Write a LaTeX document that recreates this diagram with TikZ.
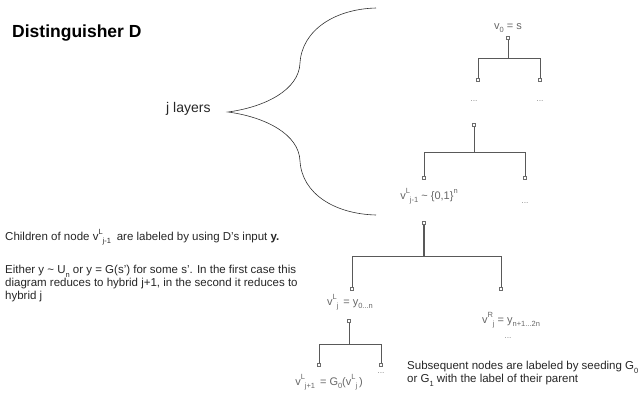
\documentclass[tikz,border=0pt]{standalone}
\usepackage{fontspec}
\setmainfont{Liberation Sans}
\usetikzlibrary{positioning}
\newcommand{\lowsub}[1]{\raisebox{-0.6ex}{\fontsize{7.5}{8}\selectfont #1}}
\newcommand{\highsup}[1]{\raisebox{0.9ex}{\fontsize{7.5}{8}\selectfont #1}}

\begin{document}
\begin{tikzpicture}[x=1pt, y=-1pt, inner sep=0pt,
    sq/.style={rectangle, draw=gray!85!black, fill=white, line width=0.6pt, minimum size=3.2pt},
    lbl/.style={anchor=base, text=black!60, font=\fontsize{11}{13}\selectfont},
    txt/.style={anchor=base west, align=left, text=black!85, font=\fontsize{11.5}{13}\selectfont},
    dts/.style={text=black!45, font=\fontsize{8.5}{8}\selectfont},
    tr/.style={draw=black!65, line width=0.9pt},
    br/.style={draw=black!80, line width=0.6pt}]
    \useasboundingbox (0,0) rectangle (643,394);

    \node[anchor=base west, font=\bfseries\fontsize{17.5}{20}\selectfont] (title) at (12,37) {Distinguisher D};
    \node[anchor=base west, text=black!85, font=\fontsize{14}{16}\selectfont] (layers) at (166,112) {j layers};

    \coordinate (tip) at (228,112);
    \coordinate (top) at (376,8);
    \coordinate (bot) at (376,215);
    \draw[br] (top) .. controls (335,9) and (302,30) .. (300,63) .. controls (299,90) and (265,107) .. (tip)
        .. controls (265,117) and (299,134) .. (300,161) .. controls (302,194) and (335,214) .. (bot);

    \node[txt] (children) at (5,240) {Children of node v\highsup{L}\lowsub{j-1}\enspace are labeled by using D's input \textbf{y.}};
    \node[txt, anchor=north west] (either) at (5,265) {Either y \textasciitilde{} U\lowsub{n} or y = G(s') for some s'. In the first case this\\
        diagram reduces to hybrid j+1, in the second it reduces to\\
        hybrid j};
    \node[txt, anchor=north west] (subseq) at (407,361) {Subsequent nodes are labeled by seeding G\lowsub{0}\\
        or G\lowsub{1} with the label of their parent};

    \node[lbl] (v0) at (508,29) {v\lowsub{0} = s};
    \node[sq] (r0) at (508,38) {};
    \coordinate (j0) at (508,58);
    \node[sq] (a1) at (478,80) {};
    \node[sq] (a2) at (540,80) {};
    \node[dts] (d1) at (474,101) {...};
    \node[dts] (d2) at (540,101) {...};

    \node[sq] (r1) at (474,125) {};
    \coordinate (j1) at (474,152);
    \node[sq] (b1) at (424,178) {};
    \node[sq] (b2) at (525,178) {};
    \node[lbl] (vjm) at (429,199) {v\highsup{L}\lowsub{j-1} \textasciitilde{} \{0,1\}\highsup{n}};
    \node[dts] (d3) at (525,203) {...};

    \node[sq] (r2) at (424,223) {};
    \coordinate (j2) at (424,256);
    \node[sq] (c1) at (352,289) {};
    \node[sq] (c2) at (501,289) {};
    \node[lbl] (vjl) at (350,305) {v\highsup{L}\lowsub{j}\, = y\lowsub{0...n}};
    \node[lbl] (vjr) at (511,323) {v\highsup{R}\lowsub{j} = y\lowsub{n+1...2n}};
    \node[dts] (d4) at (508,338) {...};

    \node[sq] (r3) at (349,321) {};
    \coordinate (j3) at (349,344);
    \node[sq] (e1) at (319,365) {};
    \node[sq] (e2) at (381,365) {};
    \node[dts] (d5) at (381,373) {...};
    \node[lbl] (vjp) at (329,385) {v\highsup{L}\lowsub{j+1}\, = G\lowsub{0}(v\highsup{L}\lowsub{j}\,)};

    \draw[tr] (r0) -- (j0);
    \draw[tr] (j0) -| (a1);
    \draw[tr] (j0) -| (a2);
    \draw[tr] (r1) -- (j1);
    \draw[tr] (j1) -| (b1);
    \draw[tr] (j1) -| (b2);
    \draw[tr, line width=1.4pt] (r2) -- (j2);
    \draw[tr] (j2) -| (c1);
    \draw[tr] (j2) -| (c2);
    \draw[tr] (r3) -- (j3);
    \draw[tr] (j3) -| (e1);
    \draw[tr] (j3) -| (e2);
\end{tikzpicture}
\end{document}
